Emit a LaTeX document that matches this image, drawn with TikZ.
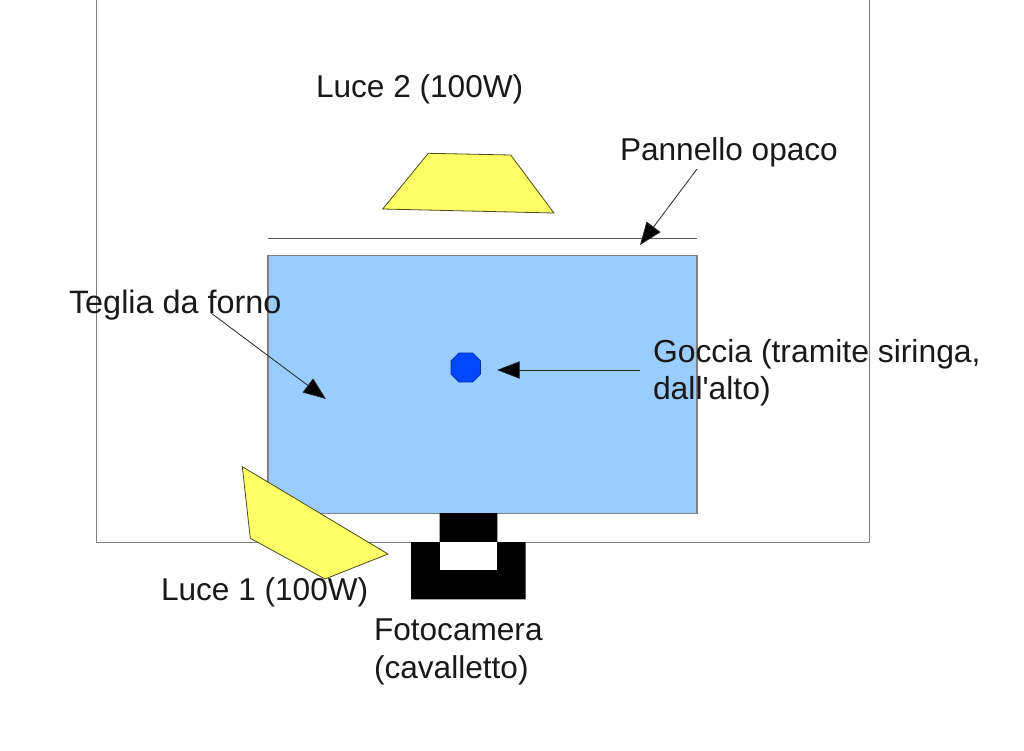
\documentclass[tikz,border=0pt]{standalone}
\usepackage{fontspec}
\setmainfont{Liberation Sans}
\usetikzlibrary{arrows.meta}
\definecolor{traybg}{HTML}{99CCFF}
\definecolor{lampbg}{HTML}{FFFF66}
\definecolor{dropbg}{HTML}{0047FF}
\definecolor{edgegray}{HTML}{808080}
\tikzset{
  lbl/.style={inner sep=0pt,outer sep=0pt,anchor=west,align=left,font=\fontsize{23.7}{28}\selectfont,text=black!90},
  lamp/.style={fill=lampbg,draw=black!70!lampbg,line width=0.6pt,line join=miter},
  leader/.style={draw=black!85,line width=0.6pt,-{Triangle[length=17pt,width=13pt,fill=black]}},
  frameline/.style={draw=edgegray,line width=0.7pt},
  solidblack/.style={fill=black,draw=none}
}
\begin{document}
\begin{tikzpicture}[x=0.75pt,y=-0.75pt]
\useasboundingbox (0,0) rectangle (1024,750);
\fill[white] (0,0) rectangle (1024,750);
% outer room
\draw[frameline] (96,0) -- (96,542) -- (869,542) -- (869,0);
% opaque panel
\coordinate (panelL) at (268,238.5);
\coordinate (panelR) at (697,238.5);
\draw[frameline,draw=black!65] (panelL) -- (panelR);
% tray
\node[draw=edgegray,fill=traybg,line width=0.9pt,minimum width=321.75pt,minimum height=193.2pt,inner sep=0pt,outer sep=0pt,anchor=north west] (tray) at (268,255.5) {};
% camera
\path[solidblack] (439.7,513) rectangle (497.3,542) (411,542) rectangle (525.7,599.3);
\node[fill=white,inner sep=0pt,minimum width=42.9pt,minimum height=20.7pt,anchor=north west] (camhole) at (440,542) {};
% lamps
\draw[lamp] (242.3,466.7) -- (250.3,538.3) -- (325,579) -- (388,554) -- cycle;
\draw[lamp] (382.7,209) -- (428.3,153.3) -- (510.7,155) -- (554,213) -- cycle;
% drop
\draw[fill=dropbg,draw=black!30!dropbg,line width=0.6pt] (459,353) -- (472.5,353) -- (480.5,361) -- (480.5,374) -- (472.5,382) -- (459,382) -- (451,374) -- (451,361) -- cycle;
% labels
\node[lbl] (luce2) at (316,89) {Luce 2 (100W)};
\node[lbl] (pann) at (620,152) {Pannello opaco};
\node[lbl,font=\fontsize{24.3}{28}\selectfont] (teglia) at (69,305) {Teglia da forno};
\node[lbl,font=\fontsize{23.9}{28}\selectfont] (goccia) at (653,373) {Goccia (tramite siringa,\\dall\textquotesingle alto)};
\node[lbl] (luce1) at (161,592) {Luce 1 (100W)};
\node[lbl] (foto) at (374,652) {Fotocamera\\(cavalletto)};
% leaders
\coordinate (a1s) at (697,169);
\coordinate (a1e) at (640,245);
\coordinate (a2s) at (211,313);
\coordinate (a2e) at (326,399);
\coordinate (a3s) at (640,370);
\coordinate (a3e) at (497,370);
\draw[leader] (a1s) -- (a1e);
\draw[leader] (a2s) -- (a2e);
\draw[leader] (a3s) -- (a3e);
\end{tikzpicture}
\end{document}
